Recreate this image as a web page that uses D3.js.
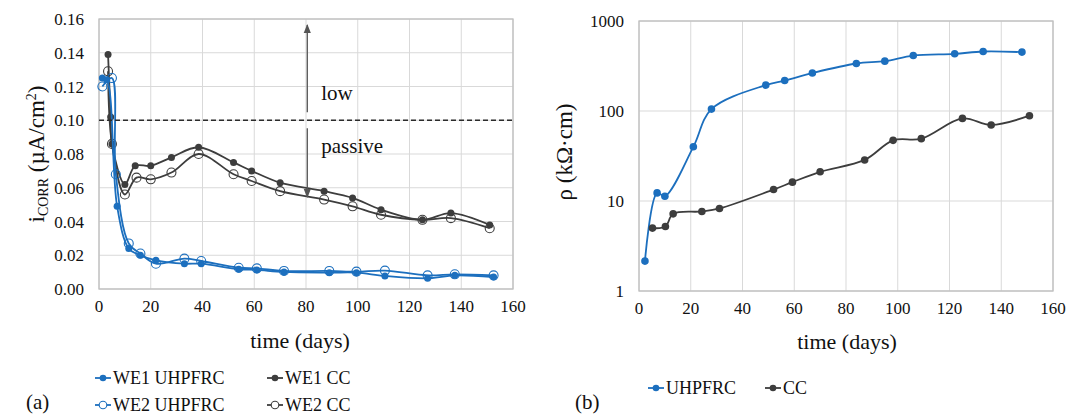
<!DOCTYPE html>
<html>
<head>
<meta charset="utf-8">
<script src="https://cdn.jsdelivr.net/npm/d3@7"></script>
</head>
<body style="margin:0">
<svg id="chart" width="1067" height="414"></svg>
<script>
// ---- data (a): corrosion current density, µA/cm2 ----
const we1UhpDays = [1.3, 3, 7, 11.5, 16, 22, 33, 39.5, 54, 61, 71.5, 89, 99.5, 110.5, 127, 137.5, 152.5];
const we1UhpVals = [0.125, 0.124, 0.049, 0.024, 0.020, 0.017, 0.015, 0.015, 0.0117, 0.0113, 0.0101, 0.0097, 0.0097, 0.0077, 0.0063, 0.0081, 0.0071];
const we2UhpDays = [1.3, 5, 6.5, 11.5, 16, 22, 33, 39.5, 54, 61, 71.5, 89, 99.5, 110.5, 127, 137.5, 152.5];
const we2UhpVals = [0.120, 0.125, 0.068, 0.027, 0.021, 0.015, 0.018, 0.0166, 0.0126, 0.0122, 0.0107, 0.0107, 0.0103, 0.0109, 0.0081, 0.0087, 0.0081];
const we1CcDays = [3.5, 4.5, 5, 10, 14, 20, 28, 38.5, 52, 59, 70, 87, 98, 109, 125, 136, 151];
const we1CcVals = [0.139, 0.102, 0.086, 0.062, 0.073, 0.073, 0.078, 0.084, 0.075, 0.070, 0.063, 0.058, 0.054, 0.047, 0.041, 0.045, 0.038];
const we2CcDays = [3.5, 5, 10, 14.5, 20, 28, 38.5, 52, 59, 70, 87, 98, 109, 125, 136, 151];
const we2CcVals = [0.129, 0.086, 0.056, 0.066, 0.065, 0.069, 0.080, 0.068, 0.064, 0.058, 0.053, 0.049, 0.044, 0.041, 0.042, 0.036];
const passiveLimit = 0.10;

// ---- data (b): resistivity, kΩ·cm ----
const uhpRhoDays = [2.3, 7, 10, 21, 28, 49, 56.3, 67, 84, 95, 106, 122, 133, 148];
const uhpRhoVals = [2.15, 12.3, 11.3, 40, 105, 194, 218, 264, 337, 358, 413, 432, 458, 451];
const ccRhoDays = [5.2, 10.2, 13.2, 24.3, 31.1, 52, 59.3, 70, 87.2, 98.2, 109.1, 125, 136.1, 150.9];
const ccRhoVals = [5.0, 5.2, 7.2, 7.65, 8.26, 13.4, 16.2, 21.1, 28.6, 47.2, 49.3, 82.8, 70, 88.7];

const xTicks = [0, 20, 40, 60, 80, 100, 120, 140, 160];
const yTicksA = [0, 0.02, 0.04, 0.06, 0.08, 0.10, 0.12, 0.14, 0.16];
const yTicksB = [1, 10, 100, 1000];

const FONT = '"Liberation Serif"';

const COLORS = {
    blue: '#1c6fbe',
    dark: '#3d3d3d',
    grid: '#d9d9d9',
    frame: '#bfbfbf',
    arrow: '#555',
    text: '#111'
};

const svg = d3.select('#chart');

function zip(xs, ys) { return xs.map((x, i) => ({ x: x, y: ys[i] })); }

function addText(g, x, y, size, str) {
    return g.append('text').attr('x', x).attr('y', y)
        .style('font-family', FONT).style('font-size', size + 'px')
        .style('fill', COLORS.text).text(str);
}

function drawFrame(g, x, y, yTicks, fmt) {
    const w = x.range()[1], h = y.range()[0];

    g.append('g').selectAll('line').data(xTicks).join('line')
        .attr('x1', d => x(d)).attr('x2', d => x(d))
        .attr('y1', 0).attr('y2', h)
        .attr('stroke', COLORS.grid).attr('stroke-width', 1);
    g.append('g').selectAll('line').data(yTicks).join('line')
        .attr('x1', 0).attr('x2', w)
        .attr('y1', d => y(d)).attr('y2', d => y(d))
        .attr('stroke', COLORS.grid).attr('stroke-width', 1);
    g.append('rect').attr('width', w).attr('height', h)
        .attr('fill', 'none').attr('stroke', COLORS.frame).attr('stroke-width', 1.3);

    // tick labels placed from the scales
    g.append('g').selectAll('text').data(xTicks).join('text')
        .attr('x', d => x(d)).attr('y', h + 23)
        .attr('text-anchor', 'middle')
        .style('font-family', FONT).style('font-size', '17px').style('fill', COLORS.text)
        .text(d => d);
    g.append('g').selectAll('text').data(yTicks).join('text')
        .attr('x', -15).attr('y', d => y(d) + 6)
        .attr('text-anchor', 'end')
        .style('font-family', FONT).style('font-size', '17px').style('fill', COLORS.text)
        .text(fmt);
}

function drawSeries(g, x, y, pts, color, open, r) {
    const line = d3.line().x(d => x(d.x)).y(d => y(d.y)).curve(d3.curveCatmullRom.alpha(0.5));
    g.append('path').datum(pts)
        .attr('d', line).attr('fill', 'none')
        .attr('stroke', color).attr('stroke-width', 1.8);
    g.append('g').selectAll('circle').data(pts).join('circle')
        .attr('cx', d => x(d.x)).attr('cy', d => y(d.y))
        .attr('r', open ? r + 1 : r)
        .attr('fill', open ? 'none' : color)
        .attr('stroke', color).attr('stroke-width', open ? 1.1 : 0);
}

function legendItem(g, lx, ly, label, color, open) {
    g.append('line').attr('x1', lx).attr('x2', lx + 16).attr('y1', ly).attr('y2', ly)
        .attr('stroke', color).attr('stroke-width', 1.8);
    g.append('circle').attr('cx', lx + 8).attr('cy', ly).attr('r', open ? 3.8 : 3.3)
        .attr('fill', open ? '#fff' : color).attr('stroke', color).attr('stroke-width', open ? 1.1 : 0);
    addText(g, lx + 18, ly + 5.5, 18, label);
}

// ================= panel (a) =================
const aLeft = 99, aTop = 19, aW = 414, aH = 270;
const xA = d3.scaleLinear().domain([0, 160]).range([0, aW]);
const yA = d3.scaleLinear().domain([0, 0.16]).range([aH, 0]);
const gA = svg.append('g').attr('transform', 'translate(' + aLeft + ',' + aTop + ')');
drawFrame(gA, xA, yA, yTicksA, d3.format('.2f'));

drawSeries(gA, xA, yA, zip(we2CcDays, we2CcVals), COLORS.dark, true, 3.5);
drawSeries(gA, xA, yA, zip(we1CcDays, we1CcVals), COLORS.dark, false, 3.5);
drawSeries(gA, xA, yA, zip(we2UhpDays, we2UhpVals), COLORS.blue, true, 3.5);
drawSeries(gA, xA, yA, zip(we1UhpDays, we1UhpVals), COLORS.blue, false, 3.5);

// passive threshold
gA.append('line').attr('x1', 0).attr('x2', aW)
    .attr('y1', yA(passiveLimit)).attr('y2', yA(passiveLimit))
    .attr('stroke', '#2b2b2b').attr('stroke-width', 1.6).attr('stroke-dasharray', '5,3');

// arrows for corrosion level
const defs = svg.append('defs');
defs.append('marker').attr('id', 'arrowHead')
    .attr('viewBox', '0 0 10 10').attr('refX', 9).attr('refY', 5)
    .attr('markerWidth', 7).attr('markerHeight', 7).attr('orient', 'auto-start-reverse')
    .append('path').attr('d', 'M0,1 L10,5 L0,9 Z').attr('fill', COLORS.arrow);
const arrowX = xA(80.5);
gA.append('line').attr('x1', arrowX).attr('x2', arrowX)
    .attr('y1', yA(passiveLimit) - 8).attr('y2', 6)
    .attr('stroke', COLORS.arrow).attr('stroke-width', 1.3).attr('marker-end', 'url(#arrowHead)');
gA.append('line').attr('x1', arrowX).attr('x2', arrowX)
    .attr('y1', yA(passiveLimit) + 8).attr('y2', 178)
    .attr('stroke', COLORS.arrow).attr('stroke-width', 1.3).attr('marker-end', 'url(#arrowHead)');
addText(gA, arrowX + 14, 81, 21, 'low');
addText(gA, arrowX + 14, 134, 21, 'passive');

// axis titles (a)
addText(svg, 300, 348, 22, 'time (days)').attr('text-anchor', 'middle');
const yTitleA = addText(svg, 0, 0, 23, null)
    .attr('transform', 'translate(44,154) rotate(-90)')
    .attr('text-anchor', 'middle');
yTitleA.append('tspan').text('i');
yTitleA.append('tspan').style('font-size', '14px').attr('dy', 4).text('CORR');
yTitleA.append('tspan').attr('dy', -4).text(' (µA/cm');
yTitleA.append('tspan').style('font-size', '14px').attr('dy', -8).text('2');
yTitleA.append('tspan').attr('dy', 8).text(')');

// legend (a)
legendItem(svg, 95, 378, 'WE1 UHPFRC', COLORS.blue, false);
legendItem(svg, 267, 378, 'WE1 CC', COLORS.dark, false);
legendItem(svg, 95, 405, 'WE2 UHPFRC', COLORS.blue, true);
legendItem(svg, 267, 405, 'WE2 CC', COLORS.dark, true);
addText(svg, 26, 409, 21, '(a)');

// ================= panel (b) =================
const bLeft = 639, bTop = 21, bW = 414, bH = 270;
const xB = d3.scaleLinear().domain([0, 160]).range([0, bW]);
const yB = d3.scaleLog().domain([1, 1000]).range([bH, 0]);
const gB = svg.append('g').attr('transform', 'translate(' + bLeft + ',' + bTop + ')');
drawFrame(gB, xB, yB, yTicksB, d3.format('d'));

drawSeries(gB, xB, yB, zip(uhpRhoDays, uhpRhoVals), COLORS.blue, false, 3.8);
drawSeries(gB, xB, yB, zip(ccRhoDays, ccRhoVals), COLORS.dark, false, 3.8);

addText(svg, 847, 349, 22, 'time (days)').attr('text-anchor', 'middle');
addText(svg, 0, 0, 23, 'ρ (kΩ·cm)')
    .attr('transform', 'translate(572,152) rotate(-90)')
    .attr('text-anchor', 'middle');

legendItem(svg, 648, 388, 'UHPFRC', COLORS.blue, false);
legendItem(svg, 765, 388, 'CC', COLORS.dark, false);
addText(svg, 575, 409, 21, '(b)');
</script>
</body>
</html>
